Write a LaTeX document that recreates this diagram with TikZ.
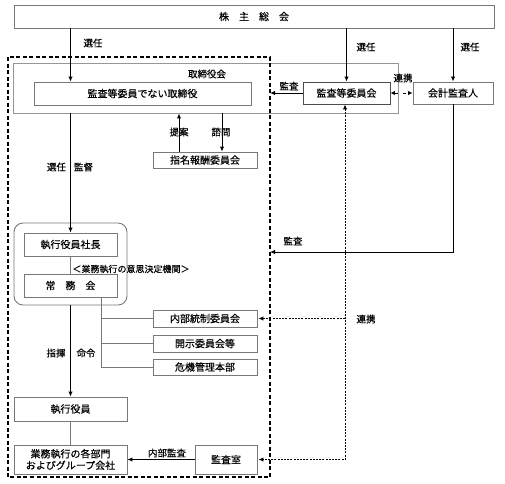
\documentclass[tikz,border=0pt]{standalone}
\usepackage{fontspec}
\setmainfont{Noto Sans CJK JP}[FakeBold=0.35]
\usetikzlibrary{arrows.meta,calc}
\definecolor{boxgray}{RGB}{120,120,120}
\definecolor{lightgray}{RGB}{150,150,150}
\begin{document}
\begin{tikzpicture}[x=1pt,y=-1pt,
  box/.style={draw=boxgray, line width=0.9pt, fill=white, inner sep=0pt, align=center, font=\fontsize{10}{12}\selectfont},
  lbl/.style={inner sep=0pt, font=\fontsize{9.5}{11}\selectfont},
  arr/.style={draw=black, line width=1pt, -{Latex[length=5pt,width=4.5pt]}},
  thinline/.style={draw=boxgray, line width=0.8pt},
  dots/.style={draw=black, line width=1pt, dash pattern=on 2pt off 1.2pt},
  dashedframe/.style={draw=black, line width=1.1pt, dash pattern=on 4pt off 2.5pt},
]
\useasboundingbox (0,0) rectangle (505,483);
% top
\node[box, minimum width=480pt, minimum height=23pt] (soukai) at (254,16.5) {株\hspace{10pt}主\hspace{10pt}総\hspace{10pt}会};
% board outer
\node[box, draw=lightgray, minimum width=385pt, minimum height=50pt] (board) at (205.5,88) {};
% dashed frame
\coordinate (dtl) at (8,57);
\coordinate (dbr) at (270,477);
\draw[dashedframe] (dtl) rectangle (dbr);
% boxes
\node[box, minimum width=217pt, minimum height=23pt] (dir) at (142.5,93.5) {監査等委員でない取締役};
\node[box, draw=black!70, minimum width=87pt, minimum height=22pt] (acom) at (346.5,93) {監査等委員会};
\node[box, minimum width=80pt, minimum height=22pt] (auditor) at (453,93) {会計監査人};
\node[box, minimum width=104pt, minimum height=16pt] (nom) at (205,160) {指名報酬委員会};
\node[box, rounded corners=9pt, fill=none, minimum width=113pt, minimum height=82pt] (grp) at (70.5,264) {};
\node[box, minimum width=93pt, minimum height=23pt] (pres) at (70.5,244.5) {執行役員社長};
\node[box, minimum width=93pt, minimum height=23pt] (jomu) at (70.5,285.5) {常\hspace{10pt}務\hspace{10pt}会};
\node[box, minimum width=104pt, minimum height=17pt] (naibu) at (205,318.5) {内部統制委員会};
\node[box, minimum width=104pt, minimum height=17pt] (kaiji) at (205,343.5) {開示委員会等};
\node[box, minimum width=104pt, minimum height=16pt] (kiki) at (205,367) {危機管理本部};
\node[box, minimum width=113pt, minimum height=24pt] (exec) at (70.5,409) {執行役員};
\node[box, minimum width=113pt, minimum height=29pt, font=\fontsize{10}{11.5}\selectfont] (depts) at (70.5,459.5) {業務執行の各部門\\およびグループ会社};
\node[box, minimum width=62pt, minimum height=29pt] (kansa) at (226,459.5) {監査室};
% connectors from 株主総会
\draw[arr] (soukai.south -| pres) -- (dir.north -| pres);
\draw[arr] (soukai.south -| acom.north) -- (acom.north);
\draw[arr] (soukai.south -| auditor.north) -- (auditor.north);
% 監査 from committee
\draw[arr] (acom.west) -- (acom.west -| dbr);
% 連携 between committee and auditor
\draw[draw=black, line width=1pt, dash pattern=on 3pt off 5pt, {Latex[length=4.5pt,width=4.5pt]}-{Latex[length=4.5pt,width=4.5pt]}] (acom.east) -- (auditor.west);
% 提案 / 諮問
\draw[arr] ([xshift=-26pt]nom.north) -- ([xshift=-26pt]nom.north |- board.south);
\draw[arr] ([xshift=17pt]nom.north |- board.south) -- ([xshift=17pt]nom.north);
% 選任 監督
\draw[arr] (board.south -| pres) -- (pres.north);
% inside group
\draw[thinline] (pres.south) -- (jomu.north);
\coordinate (bx) at ([xshift=30.5pt]jomu.south);
\draw[thinline] (bx) |- (kiki.west);
\draw[thinline] (bx |- naibu.west) -- (naibu.west);
\draw[thinline] (bx |- kaiji.west) -- (kaiji.west);
% 指揮 命令
\draw[arr] (grp.south -| pres) -- (exec.north);
\draw[thinline] (exec.south) -- (depts.north);
% 内部監査
\draw[arr] (kansa.west) -- (depts.east);
% dotted 連携
\draw[dots, {Latex[length=5pt,width=4.5pt]}-{Latex[length=5pt,width=4.5pt]}] ([xshift=-1.5pt]acom.south) |- ([xshift=1pt]kansa.east);
\draw[dots, -{Latex[length=5pt,width=4.5pt]}] ([xshift=-1.5pt]acom.south |- naibu.east) -- ([xshift=1pt]naibu.east);
% 監査 from auditor
\coordinate (audend) at (270,252);
\draw[arr] (auditor.south) |- (audend);
% labels
\node[lbl] (l1) at (93,43) {選任};
\node[lbl] (l2) at (366,47) {選任};
\node[lbl] (l3) at (470,47) {選任};
\node[lbl] (l4) at (207,74) {取締役会};
\node[lbl] (l5) at (289,86) {監査};
\node[lbl] (l6) at (403,78) {連携};
\node[lbl] (l7) at (179,132) {提案};
\node[lbl] (l8) at (221,132) {諮問};
\node[lbl] (l9) at (70,167) {選任\hspace{8pt}監督};
\node[lbl, font=\fontsize{9}{11}\selectfont] (l10) at (131,269) {＜業務執行の意思決定機関＞};
\node[lbl] (l11) at (71,353) {指揮\hspace{11pt}命令};
\node[lbl] (l12) at (167,453) {内部監査};
\node[lbl] (l13) at (366,319) {連携};
\node[lbl] (l14) at (293,241) {監査};
\end{tikzpicture}
\end{document}
